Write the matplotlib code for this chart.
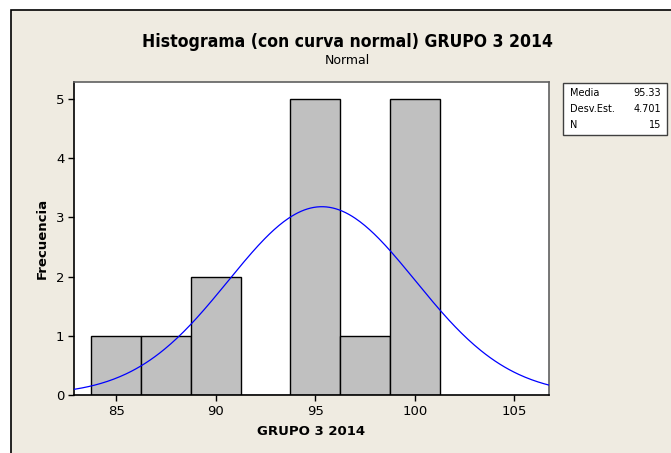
import numpy as np
import matplotlib
matplotlib.use("Agg")
import matplotlib.pyplot as plt
from matplotlib.patches import Rectangle

# Histogram bins (centres) and frequencies
bin_centers = [85.0, 87.5, 90.0, 92.5, 95.0, 97.5, 100.0]
counts = [1, 1, 2, 0, 5, 1, 5]
bin_width = 2.5

# Summary statistics
mean = 95.33
std = 4.701
n = 15

x_ticks = [85, 90, 95, 100, 105]
y_ticks = [0, 1, 2, 3, 4, 5]

W, H = 671, 453
fig = plt.figure(figsize=(W / 100, H / 100), dpi=100)
fig.patch.set_facecolor("white")

bg = "#EFEBE1"
frame = Rectangle((11 / W, -0.01), 1.0, 1 - 10 / H + 0.01, transform=fig.transFigure,
                  facecolor=bg, edgecolor="black", linewidth=1.2, zorder=-1)
fig.patches.append(frame)

ax = fig.add_axes([74 / W, 1 - 395 / H, (549 - 74) / W, (395 - 82) / H])
ax.set_zorder(1)
ax.set_facecolor("white")

ax.bar(bin_centers, counts, width=bin_width, color="#C0C0C0", edgecolor="black",
       linewidth=1.0, zorder=2)

xmin, xmax = 82.88, 106.74
xs = np.linspace(xmin, xmax, 300)
ys = n * bin_width / (std * np.sqrt(2 * np.pi)) * np.exp(-0.5 * ((xs - mean) / std) ** 2)
ax.plot(xs, ys, color="#0000FF", linewidth=0.9, zorder=3)

ax.set_xlim(xmin, xmax)
ax.set_ylim(0, 5.29)
ax.set_xticks(x_ticks)
ax.set_yticks(y_ticks)
ax.tick_params(axis="both", direction="out", length=4, width=1, labelsize=9.5,
               colors="black", pad=3)
for side in ("top", "right"):
    ax.spines[side].set_color("#606060")
    ax.spines[side].set_linewidth(1.2)
for side in ("left", "bottom"):
    ax.spines[side].set_color("black")
    ax.spines[side].set_linewidth(1.2)

ax.set_xlabel("GRUPO 3 2014", fontsize=9.5, fontweight="bold", labelpad=5)
ax.set_ylabel("Frecuencia", fontsize=9.5, fontweight="bold", labelpad=5)

fig.text(347 / W, 1 - 42 / H, "Histograma (con curva normal) GRUPO 3 2014",
         ha="center", va="center", fontsize=12.6, fontweight="bold", fontstretch="condensed")
fig.text(347 / W, 1 - 60 / H, "Normal", ha="center", va="center", fontsize=9)

# Statistics box
box = Rectangle((563 / W, 1 - 135 / H), (667 - 563) / W, (135 - 83) / H,
                transform=fig.transFigure, facecolor="white", edgecolor="#404040",
                linewidth=1.0, zorder=5)
fig.patches.append(box)
labels = ["Media", "Desv.Est.", "N"]
values = [f"{mean:.2f}", f"{std:.3f}", f"{n}"]
for i, (lab, val) in enumerate(zip(labels, values)):
    yy = 1 - (93 + i * 16) / H
    fig.text(570 / W, yy, lab, ha="left", va="center", fontsize=7, zorder=6)
    fig.text(661 / W, yy, val, ha="right", va="center", fontsize=7, zorder=6)

fig.savefig("out.png", dpi=100, facecolor=fig.get_facecolor())
